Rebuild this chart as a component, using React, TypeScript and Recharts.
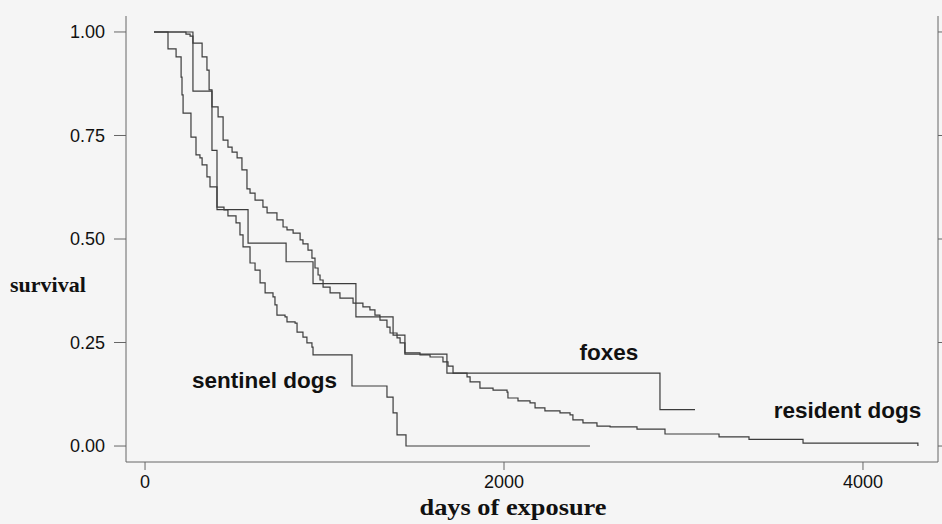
import React from 'react';
import { LineChart, Line, XAxis, YAxis, ReferenceDot, Label } from 'recharts';

// Kaplan-Meier step curves (days, survival)
const DAYS_SENTINEL = [50, 128, 173, 201, 206, 212, 256, 284, 306, 318, 345, 362, 401, 440, 462, 507, 529, 546, 585, 613, 641, 669, 713, 724, 735, 780, 791, 836, 847, 880, 902, 930, 936, 1153, 1348, 1382, 1404, 1454, 2479];
const SURV_SENTINEL = [1, 0.959, 0.94, 0.891, 0.848, 0.804, 0.746, 0.703, 0.696, 0.679, 0.65, 0.626, 0.577, 0.57, 0.556, 0.539, 0.51, 0.481, 0.442, 0.425, 0.394, 0.37, 0.36, 0.341, 0.316, 0.312, 0.3, 0.297, 0.275, 0.263, 0.249, 0.239, 0.22, 0.145, 0.118, 0.08, 0.027, 0, 0];

const DAYS_FOX = [50, 267, 373, 401, 574, 786, 936, 1175, 1382, 1448, 1682, 2869, 3064];
const SURV_FOX = [1, 0.857, 0.714, 0.571, 0.49, 0.445, 0.392, 0.312, 0.268, 0.222, 0.176, 0.088, 0.088];

const DAYS_RESIDENT = [50, 228, 251, 267, 318, 345, 357, 373, 407, 435, 462, 485, 513, 540, 568, 585, 613, 657, 680, 735, 769, 791, 825, 864, 880, 908, 930, 947, 964, 975, 992, 1031, 1086, 1159, 1214, 1253, 1281, 1309, 1348, 1365, 1404, 1421, 1448, 1532, 1588, 1660, 1688, 1716, 1794, 1811, 1866, 1939, 2017, 2022, 2078, 2145, 2173, 2228, 2312, 2368, 2384, 2440, 2518, 2591, 2741, 2897, 3198, 3365, 3666, 4306];
const SURV_RESIDENT = [1, 0.995, 0.99, 0.973, 0.94, 0.908, 0.86, 0.819, 0.795, 0.739, 0.722, 0.71, 0.696, 0.667, 0.621, 0.611, 0.594, 0.577, 0.563, 0.546, 0.529, 0.522, 0.514, 0.498, 0.488, 0.473, 0.454, 0.43, 0.413, 0.401, 0.384, 0.37, 0.357, 0.345, 0.336, 0.329, 0.316, 0.304, 0.287, 0.273, 0.261, 0.249, 0.225, 0.22, 0.215, 0.203, 0.193, 0.176, 0.167, 0.155, 0.14, 0.135, 0.13, 0.116, 0.109, 0.104, 0.092, 0.085, 0.08, 0.075, 0.063, 0.056, 0.048, 0.046, 0.041, 0.029, 0.022, 0.016, 0.007, 0];

const X_TICKS = [0, 2000, 4000];
const Y_TICKS = [0, 0.25, 0.5, 0.75, 1];

// annotation anchors (days, survival)
const ANNOTATIONS = [
  { text: 'sentinel dogs', t: 666, s: 0.16 },
  { text: 'foxes', t: 2585, s: 0.228 },
  { text: 'resident dogs', t: 3914, s: 0.088 },
];

const zip = (ts: number[], ss: number[]) => ts.map((t, i) => ({ t, s: ss[i] }));
const sentinel = zip(DAYS_SENTINEL, SURV_SENTINEL);
const foxes = zip(DAYS_FOX, SURV_FOX);
const resident = zip(DAYS_RESIDENT, SURV_RESIDENT);

const SANS = '"Liberation Sans", Arial, Helvetica, sans-serif';
const SERIF = '"Liberation Serif", "Times New Roman", serif';
const AXIS = '#666';
const CURVE = '#3c3c3c';

export default function App() {
  return (
    <div style={{ position: 'absolute', left: 0, top: 0, width: 942, height: 524, background: '#f5f5f5' }}>
      <LineChart width={942} height={524} margin={{ top: 16, right: 0, bottom: 0, left: 0 }}>
        <XAxis
          xAxisId="b"
          dataKey="t"
          type="number"
          domain={[-106, 4418]}
          ticks={X_TICKS}
          allowDataOverflow
          orientation="bottom"
          height={62}
          tickSize={8}
          tickMargin={5}
          stroke={AXIS}
          tick={{ fill: '#111', fontSize: 18, fontFamily: SANS }}
        >
          <Label
            content={({ viewBox }: any) => (
              <text
                x={viewBox.x + viewBox.width / 2 - 19}
                y={viewBox.y + 53}
                textAnchor="middle"
                fontFamily={SERIF}
                fontWeight="bold"
                fontSize={23}
                textLength={187}
                lengthAdjust="spacingAndGlyphs"
                fill="#111"
              >
                days of exposure
              </text>
            )}
          />
        </XAxis>
        <XAxis
          xAxisId="t"
          dataKey="t"
          type="number"
          domain={[-106, 4418]}
          ticks={X_TICKS}
          allowDataOverflow
          orientation="top"
          height={0}
          tickSize={8}
          stroke={AXIS}
          tickFormatter={() => ''}
        />
        <YAxis
          yAxisId="l"
          type="number"
          domain={[-0.0386, 1.0386]}
          ticks={Y_TICKS}
          allowDataOverflow
          width={126}
          tickSize={12}
          tickMargin={9}
          stroke={AXIS}
          tick={{ fill: '#111', fontSize: 18, fontFamily: SANS }}
          tickFormatter={(v: number) => v.toFixed(2)}
        >
          <Label
            content={({ viewBox }: any) => (
              <text
                x={10}
                y={viewBox.y + viewBox.height / 2 + 53}
                textAnchor="start"
                fontFamily={SERIF}
                fontWeight="bold"
                fontSize={22}
                fill="#111"
              >
                survival
              </text>
            )}
          />
        </YAxis>
        <YAxis
          yAxisId="r"
          orientation="right"
          type="number"
          domain={[-0.0386, 1.0386]}
          ticks={Y_TICKS}
          allowDataOverflow
          width={4}
          tickSize={8}
          stroke={AXIS}
          tickFormatter={() => ''}
        />
        <Line xAxisId="b" yAxisId="l" data={resident} dataKey="s" type="stepAfter" stroke={CURVE} strokeWidth={1.2} dot={false} isAnimationActive={false} />
        <Line xAxisId="b" yAxisId="l" data={foxes} dataKey="s" type="stepAfter" stroke={CURVE} strokeWidth={1.2} dot={false} isAnimationActive={false} />
        <Line xAxisId="b" yAxisId="l" data={sentinel} dataKey="s" type="stepAfter" stroke={CURVE} strokeWidth={1.2} dot={false} isAnimationActive={false} />
        {ANNOTATIONS.map((a) => (
          <ReferenceDot
            key={a.text}
            xAxisId="b"
            yAxisId="l"
            x={a.t}
            y={a.s}
            r={0}
            fill="none"
            stroke="none"
            label={{ value: a.text, position: 'center', fill: '#111', fontSize: 22.5, fontWeight: 'bold', fontFamily: SANS }}
          />
        ))}
      </LineChart>
    </div>
  );
}
